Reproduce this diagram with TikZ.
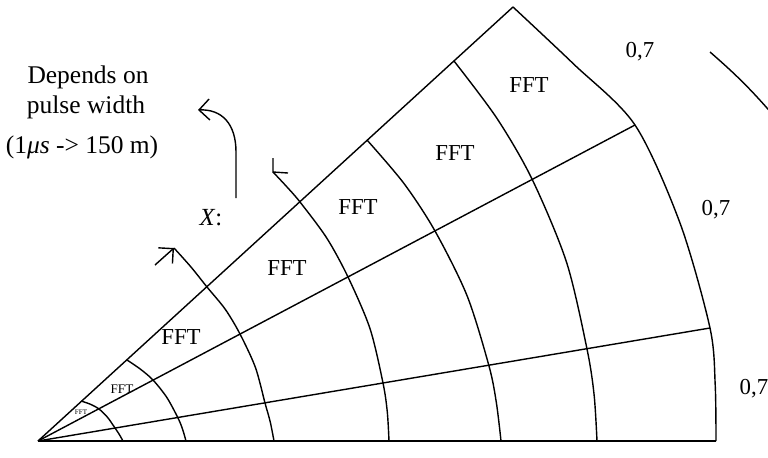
\documentclass[tikz,border=0pt]{standalone}
\usepackage{fontspec}
\setmainfont{Liberation Serif}
\usetikzlibrary{arrows.meta}
\tikzset{lbl/.style={font=\fontsize{13}{15}\selectfont,inner sep=0pt},
  note/.style={font=\fontsize{14.5}{17}\selectfont,inner sep=0pt,anchor=base},
  arr/.style={-{Straight Barb[length=2.1mm,width=4.2mm]}}}
\begin{document}
\begin{tikzpicture}[x=0.02cm,y=-0.02cm,line width=0.8pt]
\useasboundingbox (0,0) rectangle (768,457);
\coordinate (O) at (38,441);
% beams
\foreach \e in {(716,441),(710,328),(635,125),(513,7)}{\draw (O) -- \e;}
% range cells
\draw plot[smooth] coordinates {(81,401) (90.3,404.2) (99,409) (107.6,417.4) (115,428) (119.2,434.3) (123,441)};
\draw plot[smooth] coordinates {(127,360) (140.2,369) (153,380) (166.8,397.4) (178,418) (182.5,429) (186,441)};
\draw plot[smooth] coordinates {(174,248) (191,267) (207,287) (225.2,309.2) (240,334) (255.4,367.4) (265,403) (270.2,421.7) (274,441)};
\draw plot[smooth] coordinates {(273,172) (287,187) (300,202) (326.6,237.8) (348,277) (370,328.6) (383,383) (387.3,412) (389,441)};
\draw plot[smooth] coordinates {(367,140) (403.9,183.4) (435,231) (467.1,295.8) (489,366) (496.4,402.9) (501,441)};
\draw plot[smooth] coordinates {(454,61) (496.7,118) (532,179) (566.5,262.1) (587,349) (594.1,394.8) (597,441)};
\draw plot[smooth] coordinates {(513,7) (573.5,63.9) (635,125) (680.2,223.6) (710,328) (715.2,384.7) (716,441)};
\draw (710,52) to[bend left=4] (774,116);
% cell width marks
\draw[arr] (155,265) -- (174,248);
\draw (273,158) -- (273,172) -- (288,173);
\draw[arr] (236,198) -- (236,152) .. controls (236,124) and (222,109) .. (198,110);
% labels
\node[font=\fontsize{4}{4}\selectfont,inner sep=0pt] (fft0) at (81,412) {FFT};
\node[font=\fontsize{7.5}{8}\selectfont,inner sep=0pt] (fft1) at (122,389) {FFT};
\node[lbl] (fft2) at (181,337) {FFT};
\node[lbl] (fft3) at (287,268) {FFT};
\node[lbl] (fft4) at (358,207) {FFT};
\node[lbl] (fft5) at (455,153) {FFT};
\node[lbl] (fft6) at (529,85) {FFT};
\node[lbl] (g1) at (640,52) {0,7};
\node[lbl] (g2) at (716,210) {0,7};
\node[lbl] (g3) at (754,389) {0,7};
\node[lbl,font=\fontsize{14}{16}\selectfont] (xl) at (211,218) {\textit{X}:};
\node[note] (dep) at (88,83) {Depends on};
\node[note] (pw) at (86,113) {pulse width};
\node[note] (res) at (82,153) {(1\textit{μs} -> 150 m)};
\end{tikzpicture}
\end{document}
